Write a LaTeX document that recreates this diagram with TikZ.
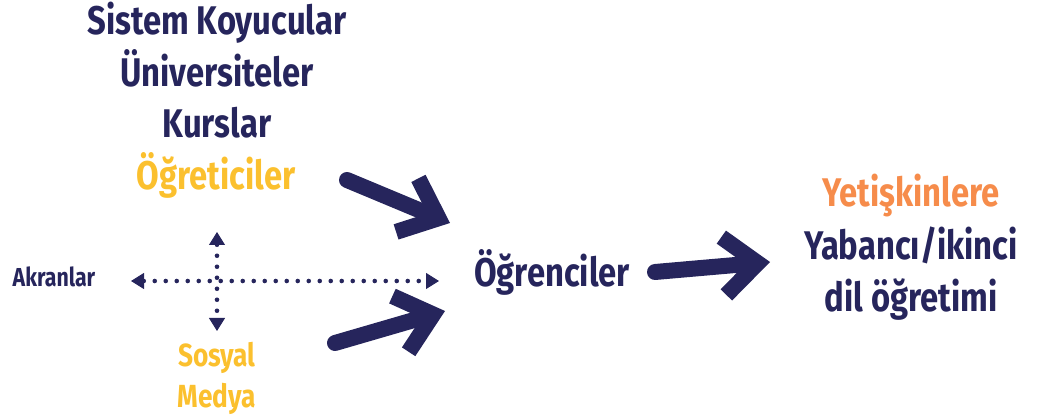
\documentclass[tikz,border=0pt]{standalone}
\usepackage{fontspec}
\setmainfont{Fira Sans}[FakeStretch=0.82]
\usetikzlibrary{arrows.meta}
\definecolor{navy}{HTML}{26255C}
\definecolor{sari}{HTML}{FBC02E}
\definecolor{turuncu}{HTML}{F68C4B}
\begin{document}
\begin{tikzpicture}[x=1pt, y=-1pt, line join=round, line cap=round,
	buyuk/.style={anchor=base, inner sep=0pt, text=navy, font=\fontsize{40}{40}\selectfont\bfseries},
	orta/.style={anchor=base, inner sep=0pt, text=sari, font=\fontsize{32}{32}\selectfont\bfseries},
	kucuk/.style={anchor=base, inner sep=0pt, text=navy, font=\fontsize{26}{26}\selectfont\bfseries},
	noktali/.style={navy, line width=4.6pt, dash pattern=on 0pt off 11pt,
		{Triangle[length=13pt, width=16pt, line width=1pt]}-{Triangle[length=13pt, width=16pt, line width=1pt]}},
	firca/.style={navy, line width=16pt, -{Straight Barb[length=34pt, width=58pt, line width=16pt]}}]
	\useasboundingbox (0,0) rectangle (1037,419);
	% sol ust
	\node[buyuk] (sistem) at (217,35) {Sistem Koyucular};
	\node[buyuk] (univ) at (217,87) {Üniversiteler};
	\node[buyuk] (kurs) at (217,138) {Kurslar};
	\node[buyuk, text=sari] (ogretici) at (216,190) {Öğreticiler};
	% sol alt
	\node[kucuk] (akran) at (54,287) {Akranlar};
	\node[orta] (sosyal) at (217,367) {Sosyal};
	\node[orta] (medya) at (217,408) {Medya};
	% orta ve sag
	\node[buyuk] (ogrenci) at (552,287) {Öğrenciler};
	\node[buyuk, text=turuncu] (yetiskin) at (911,207) {Yetişkinlere};
	\node[buyuk] (yabanci) at (911,260) {Yabancı/ikinci};
	\node[buyuk] (dil) at (911,312) {dil öğretimi};
	% noktali oklar
	\coordinate (hsol) at (131,281);
	\coordinate (hsag) at (439,281);
	\coordinate (vust) at (217,232);
	\coordinate (valt) at (217,331);
	\draw[noktali] (hsol) -- (hsag);
	\draw[noktali] (vust) -- (valt);
	% firca oklar
	\coordinate (u1) at (347,180);
	\coordinate (u2) at (450,223);
	\coordinate (a1) at (335,343);
	\coordinate (a2) at (445,311);
	\coordinate (s1) at (655,272);
	\coordinate (s2) at (770,262);
	\draw[firca] (u1) -- (u2);
	\draw[firca] (a1) -- (a2);
	\draw[firca] (s1) -- (s2);
\end{tikzpicture}
\end{document}
